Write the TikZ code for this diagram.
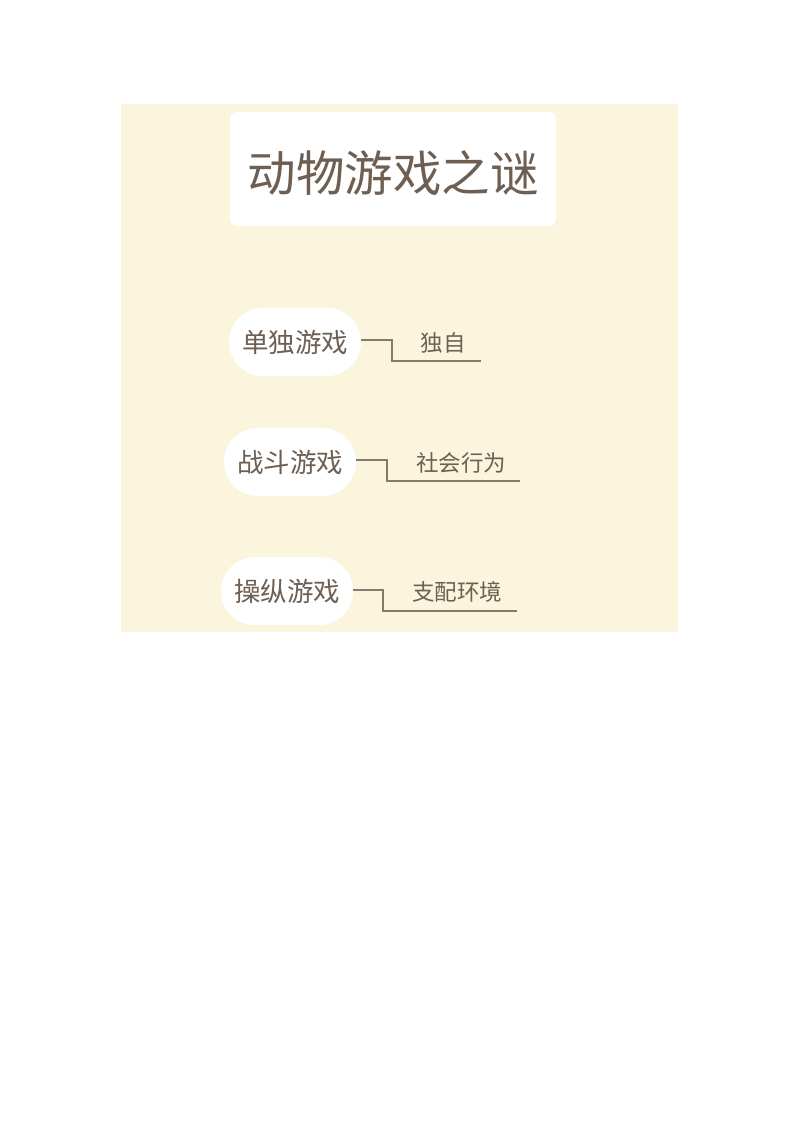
\documentclass[tikz,border=0pt]{standalone}
\usepackage{fontspec}
\newfontfamily\cjk{Noto Sans CJK SC}
\begin{document}
\begin{tikzpicture}[x=1pt,y=-1pt,
  titlebox/.style={fill=white,rounded corners=7pt,minimum width=326pt,minimum height=114pt,inner sep=0pt},
  titletext/.style={inner sep=0pt,font=\cjk\fontsize{48.5}{52}\selectfont,text=tcol},
  pill/.style={fill=white,rounded corners=34pt,minimum width=132pt,minimum height=68pt,inner sep=0pt,font=\cjk\fontsize{26.5}{30}\selectfont,text=tcol},
  leaf/.style={inner sep=0pt,font=\cjk\fontsize{22.5}{26}\selectfont,text=tcol},
  conn/.style={draw=lcol,line width=1.8pt}]
\definecolor{bg}{HTML}{FBF5DE}
\definecolor{tcol}{HTML}{6E5F52}
\definecolor{lcol}{HTML}{857A6E}
\useasboundingbox (0,0) rectangle (800,1132);
\fill[white] (0,0) rectangle (800,1132);
\fill[bg] (121,104) rectangle (678,632);
\node[titlebox] (title) at (393,169) {};
\node[titletext] (tt) at (393,173) {动物游戏之谜};
% branch 1
\node[pill] (n1) at (295,342) {单独游戏};
\node[leaf] (l1) at (443,343) {独自};
\coordinate (a1) at (392,340);
\coordinate (b1) at (392,361);
\coordinate (e1) at (481,361);
\draw[conn] (n1.east|-a1) -- (a1) -- (b1) -- (e1);
% branch 2
\node[pill] (n2) at (290,462) {战斗游戏};
\node[leaf] (l2) at (461,463) {社会行为};
\coordinate (a2) at (387,460);
\coordinate (b2) at (387,481);
\coordinate (e2) at (520,481);
\draw[conn] (n2.east|-a2) -- (a2) -- (b2) -- (e2);
% branch 3
\node[pill] (n3) at (287,591) {操纵游戏};
\node[leaf] (l3) at (457,592) {支配环境};
\coordinate (a3) at (383,590);
\coordinate (b3) at (383,611);
\coordinate (e3) at (517,611);
\draw[conn] (n3.east|-a3) -- (a3) -- (b3) -- (e3);
\end{tikzpicture}
\end{document}
